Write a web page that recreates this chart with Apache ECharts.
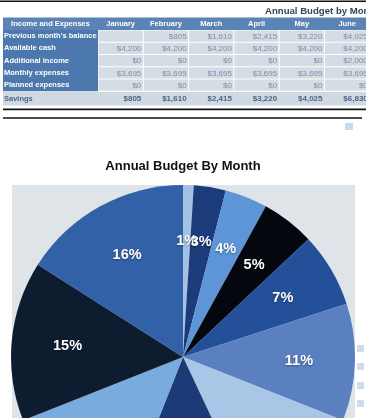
<!DOCTYPE html>
<html>
<head>
<meta charset="utf-8">
<script src="https://cdn.jsdelivr.net/npm/echarts@6/dist/echarts.min.js"></script>
<style>
html,body{margin:0;padding:0;background:#fff;}
#c{width:366px;height:418px;}
</style>
</head>
<body>
<div id="c"></div>
<script>
// ---- Table data ----
const tableTitle = 'Annual Budget by Month';
const headerLabel = 'Income and Expenses';
const months = ['January', 'February', 'March', 'April', 'May', 'June'];
const rowLabels = ["Previous month's balance", 'Available cash', 'Additional income', 'Monthly expenses', 'Planned expenses'];
const prevBalance = ['', '$805', '$1,610', '$2,415', '$3,220', '$4,025'];
const availableCash = ['$4,200', '$4,200', '$4,200', '$4,200', '$4,200', '$4,200'];
const additionalIncome = ['$0', '$0', '$0', '$0', '$0', '$2,000'];
const monthlyExpenses = ['$3,695', '$3,695', '$3,695', '$3,695', '$3,695', '$3,695'];
const plannedExpenses = ['$0', '$0', '$0', '$0', '$0', '$0'];
const savingsLabel = 'Savings';
const savings = ['$805', '$1,610', '$2,415', '$3,220', '$4,025', '$6,830'];

// ---- Pie data ----
const chartTitle = 'Annual Budget By Month';
const pieNames = ['January', 'February', 'March', 'April', 'May', 'June', 'July', 'August', 'September', 'October', 'November'];
const pieValues = [1, 3, 4, 5, 7, 11, 12, 13, 13, 15, 16];
const pieColors = ['#a3c2e3', '#1b3b7a', '#5d95d8', '#04070d', '#24509a', '#5a80c0', '#a9c6e6', '#1c3a78', '#7aabde', '#0e1c30', '#3361a7'];

const rows = [prevBalance, availableCash, additionalIncome, monthlyExpenses, plannedExpenses];

// ---- Layout (styles only) ----
const FONT = '"Liberation Sans", Arial, sans-serif';
const labelX0 = 3, labelX1 = 98;
const colW = 45.3;
const headerTop = 17.5, headerH = 12.5;
const rowTop = 30, rowH = 12.25;
const savTop = 92, savH = 13.5;

const g = [];
// top rule
g.push({type:'rect', shape:{x:0, y:0.5, width:366, height:1.6}, style:{fill:'#111'}});
// table title
g.push({type:'text', x:265, y:11, style:{text:tableTitle, font:'bold 9.6px ' + FONT, fill:'#34445a', textVerticalAlign:'middle'}});
// header row bg
g.push({type:'rect', shape:{x:labelX0, y:headerTop, width:380, height:headerH}, style:{fill:'#5b83b4'}});
g.push({type:'text', x:(labelX0 + labelX1) / 2, y:headerTop + headerH / 2, style:{text:headerLabel, font:'bold 7.5px ' + FONT, fill:'#ffffff', textAlign:'center', textVerticalAlign:'middle'}});
months.forEach(function (m, i) {
  const cx = labelX1 + colW * i + colW / 2;
  g.push({type:'text', x:cx, y:headerTop + headerH / 2, style:{text:m, font:'bold 7.5px ' + FONT, fill:'#ffffff', textAlign:'center', textVerticalAlign:'middle'}});
});
// label column bg
g.push({type:'rect', shape:{x:labelX0, y:rowTop, width:labelX1 - labelX0, height:rowH * rows.length}, style:{fill:'#4c78ad'}});
// data cells
rows.forEach(function (vals, r) {
  const y = rowTop + r * rowH;
  g.push({type:'text', x:labelX0 + 1, y:y + rowH / 2, style:{text:rowLabels[r], font:'bold 7.5px ' + FONT, fill:'#ffffff', textVerticalAlign:'middle'}});
  vals.forEach(function (v, i) {
    const x = labelX1 + colW * i;
    g.push({type:'rect', shape:{x:x + 0.5, y:y + 0.5, width:colW - 1, height:rowH - 1}, style:{fill:'#d4dce4'}});
    if (v) {
      g.push({type:'text', x:x + colW - 2, y:y + rowH / 2 + 0.5, style:{text:v, font:'8px ' + FONT, fill:'#7d8fa6', textAlign:'right', textVerticalAlign:'middle'}});
    }
  });
});
// savings row
g.push({type:'rect', shape:{x:labelX0, y:savTop, width:380, height:savH}, style:{fill:'#d0d9e2'}});
g.push({type:'text', x:labelX0 + 1, y:savTop + savH / 2, style:{text:savingsLabel, font:'bold 7.5px ' + FONT, fill:'#4b6488', textVerticalAlign:'middle'}});
savings.forEach(function (v, i) {
  const x = labelX1 + colW * i;
  g.push({type:'text', x:x + colW - 2, y:savTop + savH / 2, style:{text:v, font:'bold 8px ' + FONT, fill:'#4b6488', textAlign:'right', textVerticalAlign:'middle'}});
});
// rules under table
g.push({type:'rect', shape:{x:3, y:108.5, width:363, height:1.8}, style:{fill:'#111'}});
g.push({type:'rect', shape:{x:3, y:117.3, width:359, height:1.4}, style:{fill:'#111'}});
// small decorative squares
g.push({type:'rect', shape:{x:345, y:123, width:8, height:7}, style:{fill:'#c6dbef'}});
[[357, 345], [357, 363], [357, 382], [357, 400]].forEach(function (p) {
  g.push({type:'rect', shape:{x:p[0], y:p[1], width:7, height:7}, style:{fill:'#cfdceb'}, z:20});
});
// pie background
g.push({type:'rect', shape:{x:12, y:185, width:343, height:240}, style:{fill:'#dfe4e9'}, z:-10});

const pieData = pieNames.map(function (n, i) {
  return {name:n, value:pieValues[i], itemStyle:{color:pieColors[i]}};
});
const labelData = pieNames.map(function (n, i) {
  return {name:n, value:pieValues[i]};
});

const chart = echarts.init(document.getElementById('c'));
chart.setOption({
  animation:false,
  backgroundColor:'#ffffff',
  title:{text:chartTitle, left:'center', top:155, textStyle:{fontSize:13, fontWeight:'bold', color:'#111', fontFamily:FONT}},
  graphic:{elements:g},
  series:[
    {type:'pie', center:[183, 357], radius:172, startAngle:90, clockwise:true, silent:true,
     itemStyle:{borderWidth:0},
     label:{show:false}, labelLine:{show:false}, data:pieData, z:2},
    {type:'pie', center:[183, 357], radius:[54, 172], startAngle:90, clockwise:true, silent:true,
     avoidLabelOverlap:false, labelLayout:{hideOverlap:false},
     itemStyle:{color:'rgba(0,0,0,0)', borderWidth:0}, labelLine:{show:false},
     label:{show:true, position:'inside', color:'#ffffff', fontSize:14.5, fontWeight:'bold', fontFamily:FONT,
       textShadowColor:'rgba(0,0,0,0.4)', textShadowBlur:2, textShadowOffsetY:1,
       formatter:function (p) { return Math.round(p.percent) + '%'; }},
     data:labelData, z:3}
  ]
});
</script>
</body>
</html>
